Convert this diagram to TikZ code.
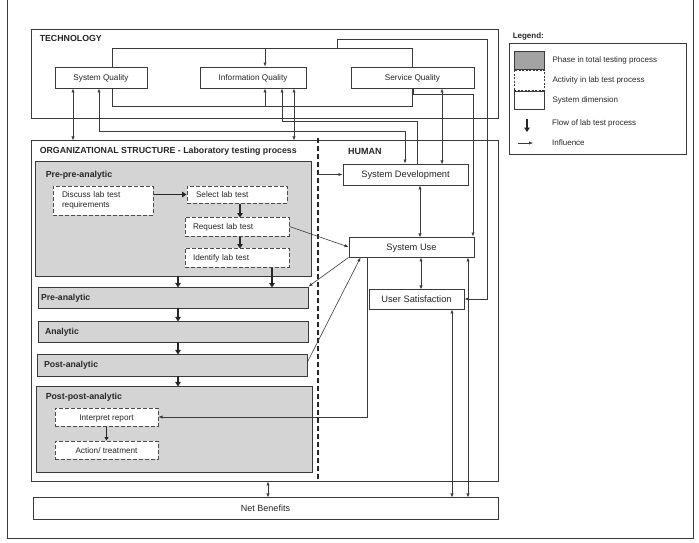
\documentclass[tikz,border=0pt]{standalone}
\usepackage{fontspec}
\setmainfont{Liberation Sans}
\usetikzlibrary{arrows.meta, calc}
\definecolor{linecol}{HTML}{3A3A3A}
\definecolor{phasefill}{HTML}{D4D4D4}
\definecolor{swatchfill}{HTML}{A3A3A3}

\begin{document}
\begin{tikzpicture}[
    x=1pt, y=-1pt,
    frame/.style={rectangle, draw=linecol, line width=0.9pt, inner sep=0pt},
    box/.style={rectangle, draw=linecol, line width=0.9pt, fill=white, inner sep=0pt, font=\fontsize{8.2}{10}\selectfont, text=black!85, text height=7pt, text depth=1pt},
    dim/.style={box, align=center},
    hbig/.style={font=\fontsize{9.3}{11}\selectfont, text height=7.5pt, text depth=1pt},
    phasebox/.style={frame, fill=phasefill},
    phase/.style={box, fill=phasefill, align=left, font=\bfseries\fontsize{8.7}{10}\selectfont, text height=6.5pt, text depth=1.5pt},
    act/.style={box, dash pattern=on 4pt off 2pt, draw=black!70, line width=1pt, align=left},
    head/.style={font=\bfseries\fontsize{8.8}{10}\selectfont, inner sep=0pt, anchor=base west, text=black!85},
    lgtxt/.style={font=\fontsize{8}{10}\selectfont, anchor=west, inner sep=0pt, text=black!85},
    conn/.style={line width=0.6pt, draw=linecol},
    arr/.style={conn, -{Latex[length=4pt, width=3.2pt]}},
    dbl/.style={conn, {Latex[length=4pt, width=3.2pt]}-{Latex[length=4pt, width=3.2pt]}},
    flow/.style={-{Triangle[length=4.5pt, width=5.5pt]}, line width=1.6pt, draw=black!85},
    flowthin/.style={-{Triangle[length=3.5pt, width=4pt]}, line width=1pt, draw=black!85},
    divider/.style={line width=1.1pt, dash pattern=on 5pt off 3pt, draw=black!85},
  ]
    \useasboundingbox (0,0) rectangle (699,543);
    \draw[linecol, line width=0.9pt] (7,0) -- (7,538) -- (693,538) -- (693,0);

    % technology
    \node[frame, minimum width=467, minimum height=89] (tech) at (264.5,73.5) {};
    \node[head] (techlbl) at ([xshift=9, yshift=-13]tech.north west) {TECHNOLOGY};
    \node[dim, minimum width=92, minimum height=21] (sysq) at (101,77.5) {System Quality};
    \node[dim, minimum width=106, minimum height=21] (infoq) at (253,77.5) {Information Quality};
    \node[dim, minimum width=123, minimum height=21] (servq) at (412.5,77.5) {Service Quality};

    % organizational structure
    \node[frame, minimum width=467, minimum height=341] (org) at (264.5,310.5) {};
    \node[head] (orglbl) at ([xshift=9, yshift=-14]org.north west) {ORGANIZATIONAL STRUCTURE - Laboratory testing process};
    \coordinate (divtop) at (318,138);
    \draw[divider] (divtop) -- (divtop |- org.south);
    \node[head, font=\bfseries\fontsize{9}{10}\selectfont] (humanlbl) at (348,154) {HUMAN};

    \node[phasebox, minimum width=276, minimum height=115] (prepre) at (173,218.5) {};
    \node[head] (preprelbl) at ([xshift=11, yshift=-17]prepre.north west) {Pre-pre-analytic};
    \node[act, minimum width=100, minimum height=29, text width=82, text height=, text depth=] (discuss) at (103,200.5) {Discuss lab test\\requirements};
    \node[act, minimum width=100, minimum height=17, text width=82] (select) at (237,194.5) {Select lab test};
    \node[act, minimum width=104, minimum height=19, text width=88] (request) at (237,226.5) {Request lab test};
    \node[act, minimum width=104, minimum height=19, text width=88] (identify) at (237,257.5) {Identify lab test};

    \node[phase, minimum width=270, minimum height=21, text width=264] (pre) at (173,297.5) {Pre-analytic};
    \node[phase, minimum width=270, minimum height=21, text width=256] (ana) at (173,331.5) {Analytic};
    \node[phase, minimum width=270, minimum height=22, text width=256] (post) at (172,365) {Post-analytic};
    \node[phasebox, minimum width=276, minimum height=86] (postpost) at (174,429) {};
    \node[head] (postpostlbl) at ([xshift=10, yshift=-14]postpost.north west) {Post-post-analytic};
    \node[act, minimum width=103, minimum height=18] (interp) at (106.5,417) {Interpret report};
    \node[act, minimum width=103, minimum height=18] (action) at (106.5,450) {Action/ treatment};

    % human
    \node[dim, hbig, minimum width=125, minimum height=21] (sysdev) at (405.5,174.5) {System Development};
    \node[dim, hbig, minimum width=125, minimum height=20] (sysuse) at (411.5,247) {System Use};
    \node[dim, hbig, minimum width=95, minimum height=20] (usersat) at (416.5,299) {User Satisfaction};

    \node[dim, font=\fontsize{9}{10}\selectfont, minimum width=465, minimum height=22] (net) at (265.5,508) {Net Benefits};

    % legend
    \node[frame, minimum width=177, minimum height=111] (lgbox) at (597.5,98.5) {};
    \node[head, font=\bfseries\fontsize{8}{10}\selectfont] (lglbl) at ([xshift=4, yshift=4]lgbox.north west) {Legend:};
    \node[phasebox, fill=swatchfill, minimum width=30, minimum height=18] (sw1) at (529,60) {};
    \node[frame, dash pattern=on 2pt off 1.5pt, line width=0.6pt, minimum width=30, minimum height=20] (sw2) at (529,80) {};
    \node[frame, minimum width=30, minimum height=18] (sw3) at (529,100) {};
    \node[lgtxt] (sw1txt) at ([xshift=8]sw1.east) {Phase in total testing process};
    \node[lgtxt] (sw2txt) at ([xshift=8]sw2.east) {Activity in lab test process};
    \node[lgtxt] (sw3txt) at ([xshift=8]sw3.east) {System dimension};
    \coordinate (lgflow) at (527,119);
    \draw[flow] (lgflow) -- ++(0,13);
    \node[lgtxt] (lgflowtxt) at (552,123) {Flow of lab test process};
    \coordinate (lginf) at (518,143);
    \draw[arr] (lginf) -- ++(15,0);
    \node[lgtxt] (lginftxt) at (552,143) {Influence};

    % links in technology
    \draw[conn] ([xshift=11]sysq.north) -- ++(0,-18) -| (servq.north);
    \draw[arr] ([xshift=12, yshift=18]infoq.north) -- ([xshift=12]infoq.north);
    \draw[conn] ([xshift=11]sysq.south) -- ++(0,18) -| (servq.south);
    \draw[arr] ([xshift=12, yshift=-18]infoq.south) -- ([xshift=12]infoq.south);
    \coordinate (bus) at (337,49);
    \draw[arr] (bus) -- ++(0,-10) -| ([xshift=23]usersat.east) -- (usersat.east);

    % technology to the rest
    \draw[dbl] ([xshift=-28]sysq.south) -- ++(0,52);
    \draw[dbl] ([xshift=-2]sysq.south) -- ++(0,43) -| ([xshift=-0.5]sysdev.north);
    \draw[arr] ([xshift=11.5]sysdev.north) -- ++(0,-42) -| ([xshift=29]infoq.south);
    \draw[dbl] ([xshift=41]infoq.south) -- ++(0,52);
    \draw[dbl] ([xshift=29.5]servq.south) -- ++(0,76);
    \draw[arr] ([xshift=0.5]servq.south) -- ++(0,6) -| ([xshift=61.5]sysuse.north);

    % human
    \draw[arr] (divtop |- sysdev.west) -- (sysdev.west);
    \draw[dbl] ([xshift=14.5]sysdev.south) -- ++(0,52);
    \draw[dbl] ([xshift=9.5]sysuse.south) -- ++(0,32);
    \draw[dbl] ([xshift=35.5]usersat.south) -- ++(0,188);
    \draw[dbl] ([xshift=56.5]sysuse.south) -- ++(0,240);
    \draw[dbl] ([xshift=3.5]org.south) -- ++(0,16);
    \draw[arr] ([xshift=-44.5]sysuse.south) |- (interp.east);
    \draw[arr] (request.east) -- (sysuse.west);
    \draw[arr] (sysuse.south west) -- (pre.north east);
    \draw[arr] ([yshift=3]post.east) -- ([xshift=12]sysuse.south west);

    % lab test flow
    \draw[flow] (discuss.east |- select.west) -- (select.west);
    \draw[flow] ([xshift=3]select.south) -- ++(0,14);
    \draw[flow] ([xshift=3]request.south) -- ++(0,12);
    \draw[flow] ([xshift=5]prepre.south) -- ++(0,11);
    \draw[flow] ([xshift=35]identify.south) -- ++(0,20);
    \draw[flow] ([xshift=5]pre.south) -- ++(0,13);
    \draw[flow] ([xshift=5]ana.south) -- ++(0,12);
    \draw[flow] ([xshift=6]post.south) -- ++(0,10);
    \draw[flowthin] (interp.south) -- (action.north);
  \end{tikzpicture}
\end{document}
